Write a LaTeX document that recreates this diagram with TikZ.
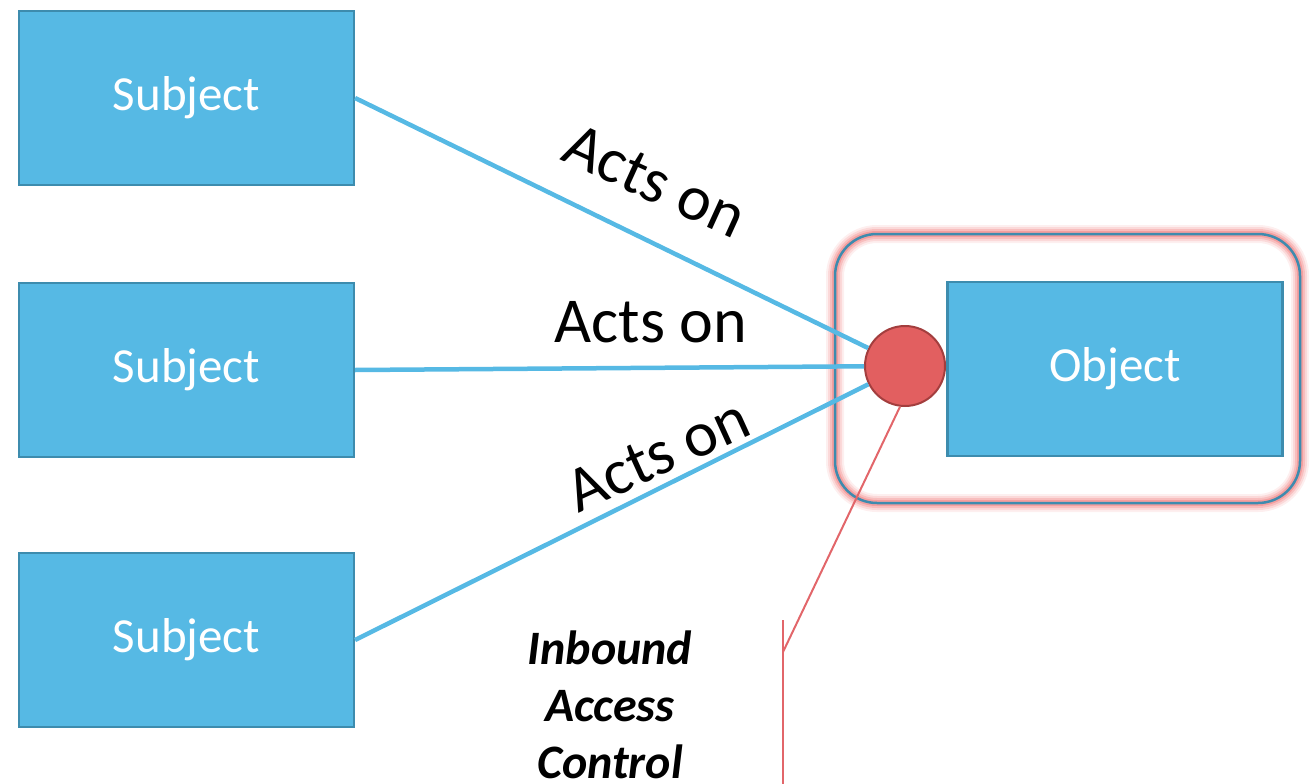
\documentclass[tikz,border=0pt]{standalone}
\usepackage{fontspec}
\setmainfont{Carlito}
\begin{document}
\begin{tikzpicture}[x=1pt,y=-1pt,
  box/.style={draw=boxedge,fill=boxfill,line width=2.2pt,minimum width=335pt,minimum height=174pt,
    text=white,font=\fontsize{49}{58}\selectfont,inner sep=0pt},
  link/.style={draw=linkblue,line width=4.5pt},
  lbl/.style={font=\fontsize{64}{72}\selectfont,text=black,inner sep=0pt},
  acp/.style={circle,draw=dotedge,fill=dotfill,line width=2pt,minimum size=80pt,inner sep=0pt},
  callout/.style={draw=calloutred,line width=2pt}]
\definecolor{boxfill}{HTML}{56B9E4}
\definecolor{boxedge}{HTML}{3D8CAE}
\definecolor{linkblue}{HTML}{56B9E4}
\definecolor{dotfill}{HTML}{E25F60}
\definecolor{dotedge}{HTML}{A33E3E}
\definecolor{calloutred}{HTML}{E2666A}
\definecolor{glow}{HTML}{F07878}
\definecolor{frameblue}{HTML}{3E8BAE}
\useasboundingbox (0,0) rectangle (1314,784);

% subjects
\node[box] (s1) at (186.5,98) {Subject};
\node[box] (s2) at (186.5,370) {Subject};
\node[box] (s3) at (186.5,640) {Subject};

% glowing frame around the object
\foreach \w/\o in {18/0.12,14/0.18,10/0.28,6/0.45}{
  \draw[glow,opacity=\o,line width=\w pt,rounded corners=42pt] (835,234) rectangle (1300,503);
}
\draw[frameblue,line width=2.5pt,rounded corners=42pt] (835,234) rectangle (1300,503);

\node[box] (obj) at (1115,369) {Object};

% access-control point
\node[acp] (dot) at (905,366) {};

% relations
\draw[link] (s1.east) -- (dot);
\draw[link] (s2.east) -- (dot);
\draw[link] (s3.east) -- (dot);

\node[lbl,rotate=-24.5] (l1) at (655,181) {Acts on};
\node[lbl] (l2) at (651,322) {Acts on};
\node[lbl,rotate=24.5] (l3) at (658,455) {Acts on};

% callout
\coordinate (k) at (783,652);
\coordinate (kt) at (783,620);
\coordinate (kb) at (783,784);
\draw[callout] (dot.-97) -- (k);
\draw[callout] (kt) -- (kb);
\node[align=center,font=\fontsize{48}{57}\selectfont\bfseries\itshape,inner sep=0pt] (iac) at (610,705)
  {Inbound\\Access\\Control};
\end{tikzpicture}
\end{document}
